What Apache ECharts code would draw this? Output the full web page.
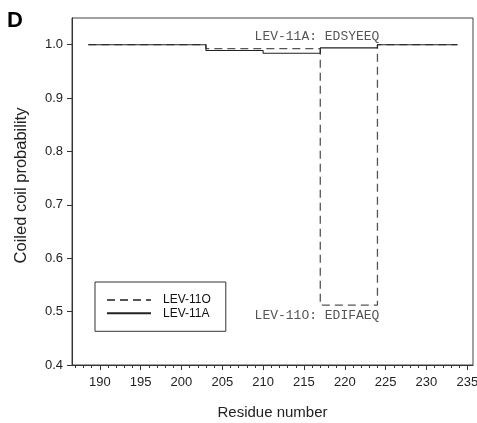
<!DOCTYPE html>
<html><head><meta charset="utf-8">
<script src="https://cdn.jsdelivr.net/npm/echarts@6/dist/echarts.min.js"></script>
<style>html,body{margin:0;padding:0;background:#fff}#c{width:477px;height:423px}</style>
</head><body><div id="c"></div>
<script>
// Breakpoints of the step profiles (residue where a new value starts)
const residuesO = [188.6, 203, 217, 224, 233.8];
const probO     = [1.0, 0.9925, 0.512, 1.0, 1.0];
const residuesA = [188.6, 203, 210, 217, 224, 233.8];
const probA     = [1.0, 0.989, 0.984, 0.994, 1.0, 1.0];
const xMajorTicks = [190, 195, 200, 205, 210, 215, 220, 225, 230, 235];
const xMinorTicks = [187,188,189,190,191,192,193,194,195,196,197,198,199,200,201,202,203,204,205,206,207,208,209,210,211,212,213,214,215,216,217,218,219,220,221,222,223,224,225,226,227,228,229,230,231,232,233,234,235];
const yTicks = [0.4, 0.5, 0.6, 0.7, 0.8, 0.9, 1.0];
const annotA = {x: 216.6, y: 1.0144, text: 'LEV-11A: EDSYEEQ'};
const annotO = {x: 216.6, y: 0.4925, text: 'LEV-11O: EDIFAEQ'};

const X_MIN = 186.6, X_MAX = 235.7, Y_MIN = 0.4, Y_MAX = 1.05;
const zip = (xs, ys) => xs.map((x, i) => [x, ys[i]]);
const sans = 'Liberation Sans, Arial, sans-serif';
const mono = 'Liberation Mono, Courier New, monospace';

const chart = echarts.init(document.getElementById('c'), null, {renderer: 'canvas'});
chart.setOption({
  animation: false,
  backgroundColor: '#fff',
  title: {text: 'D', left: 7, top: 10, padding: 0,
    textStyle: {fontFamily: sans, fontSize: 22, fontWeight: 'bold', color: '#000'}},
  grid: {left: 72, right: 4, top: 18, bottom: 58, show: true, borderColor: '#444', borderWidth: 1,
    outerBoundsMode: 'none', containLabel: false},
  legend: {
    orient: 'vertical', left: 95, top: 282,
    padding: [12, 15, 12, 11],
    borderColor: '#333', borderWidth: 1,
    itemWidth: 44, itemHeight: 12, itemGap: 1.3,
    itemStyle: {opacity: 0},
    textStyle: {fontFamily: sans, fontSize: 12, color: '#111', padding: [0, 0, 0, 7]},
    data: ['LEV-11O', 'LEV-11A']
  },
  xAxis: [{
    type: 'value', min: X_MIN, max: X_MAX, gridIndex: 0,
    name: 'Residue number', nameLocation: 'middle', nameGap: 40,
    nameTextStyle: {fontFamily: sans, fontSize: 15, color: '#222'},
    axisLine: {show: true, onZero: false, lineStyle: {color: '#333'}},
    axisTick: {show: true, inside: false, length: 5, customValues: xMajorTicks, lineStyle: {color: '#333'}},
    axisLabel: {customValues: xMajorTicks, margin: 11, fontFamily: sans, fontSize: 13, color: '#222'},
    splitLine: {show: false}
  }, {
    type: 'value', min: X_MIN, max: X_MAX, gridIndex: 0, position: 'bottom',
    axisLine: {show: false},
    axisTick: {show: true, inside: false, length: 3, customValues: xMinorTicks, lineStyle: {color: '#333'}},
    axisLabel: {show: false},
    splitLine: {show: false}
  }],
  yAxis: {
    type: 'value', min: Y_MIN, max: Y_MAX,
    name: 'Coiled coil probability', nameLocation: 'middle', nameGap: 42,
    nameTextStyle: {fontFamily: sans, fontSize: 16.5, color: '#222', padding: [0, 0, 0, 12]},
    axisLine: {show: true, onZero: false, lineStyle: {color: '#333'}},
    axisTick: {show: true, inside: false, length: 5, customValues: yTicks, lineStyle: {color: '#333'}},
    axisLabel: {customValues: yTicks, margin: 9, fontFamily: sans, fontSize: 13, color: '#222',
      formatter: v => v.toFixed(1)},
    splitLine: {show: false}
  },
  series: [{
    name: 'LEV-11O', type: 'line', step: 'end', xAxisIndex: 0,
    data: zip(residuesO, probO), symbol: 'none',
    lineStyle: {color: '#555', width: 1.3, type: [8, 5]},
    itemStyle: {color: '#555'},
    markPoint: {symbol: 'circle', symbolSize: 0, silent: true,
      label: {show: true, position: 'inside', fontFamily: mono, fontSize: 13, color: '#555',
        formatter: p => p.name},
      data: [{name: annotO.text, coord: [annotO.x, annotO.y]}]}
  }, {
    name: 'LEV-11A', type: 'line', step: 'end', xAxisIndex: 0,
    data: zip(residuesA, probA), symbol: 'none',
    lineStyle: {color: '#222', width: 1.1},
    itemStyle: {color: '#222'},
    markPoint: {symbol: 'circle', symbolSize: 0, silent: true,
      label: {show: true, position: 'inside', fontFamily: mono, fontSize: 13, color: '#555',
        formatter: p => p.name},
      data: [{name: annotA.text, coord: [annotA.x, annotA.y]}]}
  }]
});
</script></body></html>
